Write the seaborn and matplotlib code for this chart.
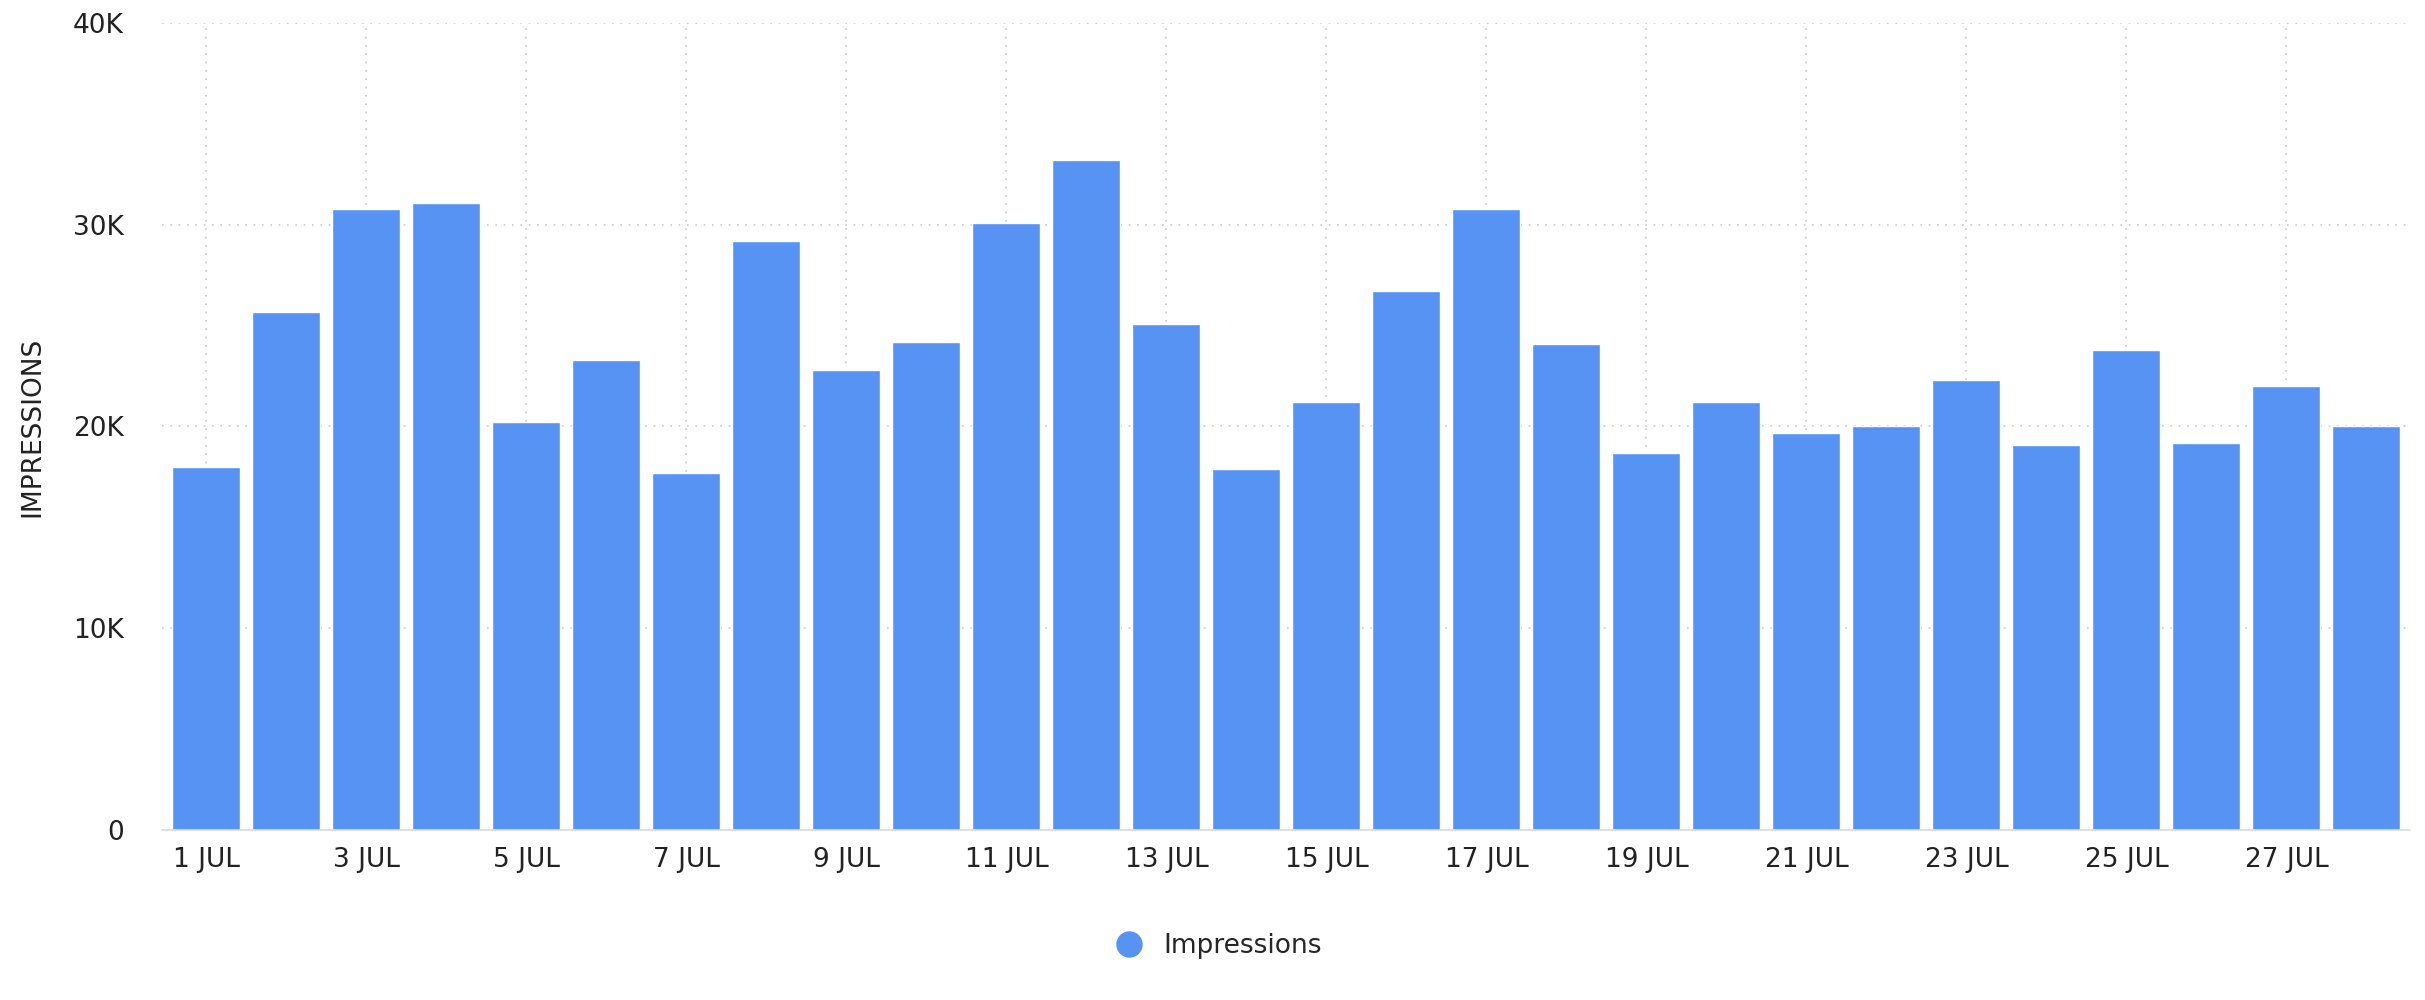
import matplotlib
matplotlib.use("Agg")
import matplotlib.pyplot as plt
import seaborn as sns
import pandas as pd
from matplotlib.lines import Line2D

days = [f"{d} JUL" for d in range(1, 29)]
impressions = [18.0, 25.7, 30.8, 31.1, 20.2, 23.3, 17.7, 29.2, 22.8, 24.2,
               30.1, 33.2, 25.1, 17.9, 21.2, 26.7, 30.8, 24.1, 18.7, 21.2,
               19.7, 20.0, 22.3, 19.1, 23.8, 19.2, 22.0, 20.0]
impressions = [v * 1000 for v in impressions]
df = pd.DataFrame({"day": days, "Impressions": impressions})

sns.set_theme(style="white")
plt.rcParams['font.family'] = ['DejaVu Sans']
color = "#5793f3"

fig = plt.figure(figsize=(24.25, 10), dpi=100)
ax = fig.add_axes([0.067, 0.17, 0.927, 0.807])
sns.barplot(data=df, x="day", y="Impressions", color=color, width=0.85,
            saturation=1, ax=ax, zorder=2)
ax.set_ylim(0, 40000)
ax.set_xlim(-0.55, 27.55)
ax.set_yticks([0, 10000, 20000, 30000, 40000])
ax.set_yticklabels(["0", "10K", "20K", "30K", "40K"])
ax.set_xticks(range(0, 28, 2))
ax.set_xticklabels(days[::2])
ax.tick_params(axis='both', labelsize=19, length=0, colors="#222222")
ax.tick_params(axis='x', pad=12)
ax.tick_params(axis='y', pad=28)
for t in ax.get_yticklabels():
    t.set_horizontalalignment('right')
ax.set_xlabel("")
ax.set_ylabel("IMPRESSIONS", fontsize=19, labelpad=20, color="#222222")
ax.grid(True, linestyle=(0, (1, 4)), color="#cccccc", linewidth=1.2, zorder=0)
for s in ["top", "right", "left"]:
    ax.spines[s].set_visible(False)
ax.spines["bottom"].set_color("#dddddd")
handle = Line2D([], [], marker='o', color=color, linestyle='', markersize=18)
fig.legend([handle], ["Impressions"], loc="center", bbox_to_anchor=(0.5, 0.054),
           frameon=False, fontsize=19, handletextpad=0.3)
fig.savefig("out.png", dpi=100)
